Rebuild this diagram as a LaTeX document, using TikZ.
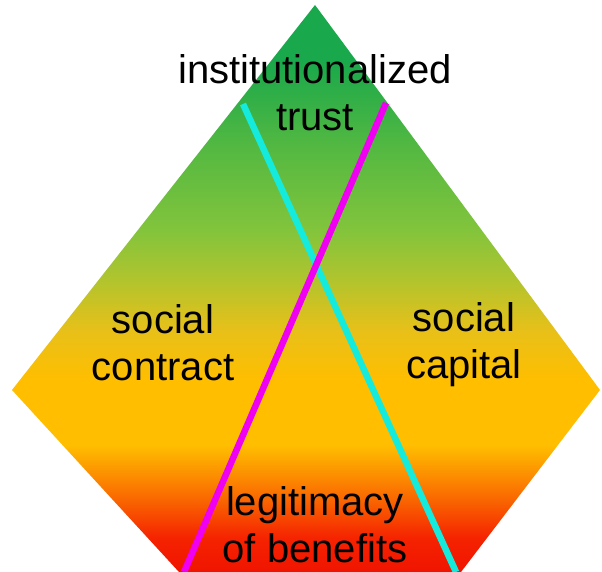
\documentclass[tikz,border=0pt]{standalone}
\usepackage{fontspec}
\setmainfont{Liberation Sans}
\definecolor{cRed}{RGB}{240,20,0}
\definecolor{cRedB}{RGB}{245,35,0}
\definecolor{cOrR}{RGB}{250,110,0}
\definecolor{cOr}{RGB}{255,190,0}
\definecolor{cYO}{RGB}{232,192,25}
\definecolor{cYG}{RGB}{178,196,45}
\definecolor{cLG}{RGB}{130,196,60}
\definecolor{cMG}{RGB}{85,185,65}
\definecolor{cDG}{RGB}{25,168,75}
\definecolor{cCyan}{RGB}{20,235,220}
\definecolor{cMag}{RGB}{240,0,240}
\pgfdeclareverticalshading{trishade}{100bp}{%
  color(0bp)=(cRed);
  color(25bp)=(cRed);
  color(28bp)=(cRedB);
  color(31.8bp)=(cOrR);
  color(36.2bp)=(cOr);
  color(41.9bp)=(cOr);
  color(46.3bp)=(cYO);
  color(50.7bp)=(cYG);
  color(55.2bp)=(cLG);
  color(62.2bp)=(cMG);
  color(70.1bp)=(cDG);
  color(75bp)=(cDG);
  color(100bp)=(cDG)}
\begin{document}
\begin{tikzpicture}[x=1pt,y=-1pt,
  lbl/.style={align=center,font=\fontsize{40}{47}\selectfont,text=black,inner sep=0pt},
  bar/.style={line width=6.5pt}]
\useasboundingbox (0,0) rectangle (602,572);
\fill[white] (0,0) rectangle (602,572);
\coordinate (apex) at (315,5);
\coordinate (lv) at (12,390);
\coordinate (rv) at (600,390);
\coordinate (bl) at (179,572);
\coordinate (br) at (461,572);
\shade[shading=trishade] (apex) -- (rv) -- (br) -- (bl) -- (lv) -- cycle;
\node[lbl] (trust) at (315,93) {institutionalized\\trust};
\node[lbl] (contract) at (163,343) {social\\contract};
\node[lbl] (capital) at (464,345) {social\\capital};
\node[lbl] (benefits) at (315,525) {legitimacy\\of benefits};
\coordinate (ct) at (243,104);
\coordinate (cb) at (456,572);
\coordinate (mt) at (386,103);
\coordinate (mb) at (184,572);
\draw[bar,cCyan] (ct) -- (cb);
\draw[bar,cMag] (mt) -- (mb);
\end{tikzpicture}
\end{document}
